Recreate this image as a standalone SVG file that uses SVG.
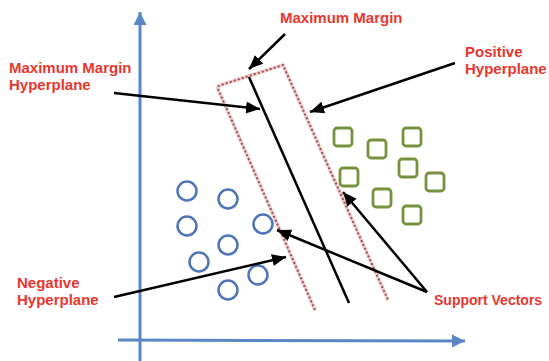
<svg xmlns="http://www.w3.org/2000/svg" width="549" height="361" viewBox="0 0 549 361">
<style>
.lbl{font-family:"Liberation Sans",Arial,sans-serif;font-weight:bold;font-size:15px;fill:#E8372E}
.axis{stroke:#5B86C6;stroke-width:3;fill:none}
.pt{fill:none;stroke:#4F75B9;stroke-width:2.5}
.sq{fill:none;stroke:#77923E;stroke-width:2.8}
.ptr{stroke:#000;stroke-width:2.5;fill:none;marker-end:url(#ah)}
.mband{stroke:#F5C9C9;stroke-width:3.5;fill:none}
.mdot{stroke:#8E5A5E;stroke-width:2;stroke-dasharray:2 2.2;fill:none}
</style>
<defs>
<marker id="ah" markerUnits="userSpaceOnUse" markerWidth="16" markerHeight="14" refX="14" refY="6" orient="auto">
<path d="M0,0 L14,6 L0,12 Z" fill="#000"/>
</marker>
<marker id="axh" markerUnits="userSpaceOnUse" markerWidth="16" markerHeight="14" refX="13" refY="6.5" orient="auto">
<path d="M0,0 L13,6.5 L0,13 Z" fill="#5B86C6"/>
</marker>
</defs>
<g id="axes">
<line class="axis" x1="140" y1="361" x2="140" y2="12" marker-end="url(#axh)"/>
<line class="axis" x1="118" y1="340" x2="465" y2="341" marker-end="url(#axh)"/>
</g>
<g id="margin">
<path class="mband" d="M315,310 L218,89 Q217,86 221,85 L283,65 L388,300"/>
<path class="mdot" d="M315,310 L218,89 Q217,86 221,85 L283,65 L388,300"/>
<line x1="249" y1="77" x2="349" y2="303" stroke="#000" stroke-width="2.5"/>
</g>
<g id="negatives">
<circle class="pt" cx="187" cy="191" r="9.5"/>
<circle class="pt" cx="228" cy="199" r="9.5"/>
<circle class="pt" cx="187" cy="226" r="9.5"/>
<circle class="pt" cx="263" cy="224" r="9.5"/>
<circle class="pt" cx="228" cy="245" r="9.5"/>
<circle class="pt" cx="199" cy="262" r="9.5"/>
<circle class="pt" cx="258" cy="275" r="9.5"/>
<circle class="pt" cx="228" cy="290" r="9.5"/>
</g>
<g id="positives">
<rect class="sq" x="334" y="128" width="18" height="18" rx="3"/>
<rect class="sq" x="368" y="140" width="18" height="18" rx="3"/>
<rect class="sq" x="403" y="128" width="18" height="18" rx="3"/>
<rect class="sq" x="399" y="159" width="18" height="18" rx="3"/>
<rect class="sq" x="340" y="168" width="18" height="18" rx="3"/>
<rect class="sq" x="426" y="173" width="18" height="18" rx="3"/>
<rect class="sq" x="373" y="189" width="18" height="18" rx="3"/>
<rect class="sq" x="403" y="206" width="18" height="18" rx="3"/>
</g>
<g id="connectors">
<line class="ptr" x1="285" y1="34" x2="249" y2="69"/>
<line class="ptr" x1="114" y1="93" x2="260" y2="109"/>
<line class="ptr" x1="455" y1="63" x2="310" y2="112"/>
<line class="ptr" x1="114" y1="297" x2="286" y2="257"/>
<line class="ptr" x1="427" y1="292" x2="277" y2="230"/>
<line class="ptr" x1="427" y1="292" x2="343" y2="192"/>
</g>
<g id="labels">
<text class="lbl" x="280" y="23">Maximum Margin</text>
<text class="lbl" x="9" y="73">Maximum Margin</text>
<text class="lbl" x="9" y="90">Hyperplane</text>
<text class="lbl" x="465" y="57">Positive</text>
<text class="lbl" x="465" y="74">Hyperplane</text>
<text class="lbl" x="17" y="288">Negative</text>
<text class="lbl" x="17" y="305">Hyperplane</text>
<text class="lbl" x="434" y="305" style="font-size:14px">Support Vectors</text>
</g>
</svg>
